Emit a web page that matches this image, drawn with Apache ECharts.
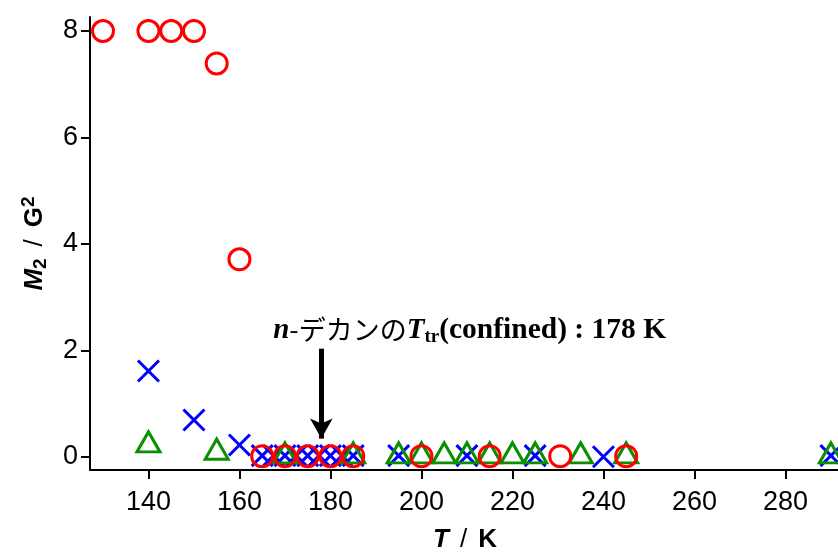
<!DOCTYPE html>
<html>
<head>
<meta charset="utf-8">
<script src="https://cdn.jsdelivr.net/npm/echarts@6/dist/echarts.min.js"></script>
<style>
  html, body { margin: 0; padding: 0; background: #fff; }
  #chart { width: 838px; height: 554px; }
</style>
</head>
<body>
<div id="chart"></div>
<script>
  // red circles
  const circleData = [
    [130, 8.0], [140, 8.0], [145, 8.0], [150, 8.0], [155, 7.39], [160, 3.71],
    [165, 0.01], [170, 0.01], [175, 0.01], [180, 0.01], [185, 0.01],
    [200, 0.01], [215, 0.01], [230.5, 0.01], [245, 0.01]
  ]
  // blue crosses
  const crossData = [
    [140, 1.61], [150, 0.69], [160, 0.22],
    [165, 0.02], [167.5, 0.02], [170, 0.02], [172.5, 0.02], [175, 0.02],
    [177.5, 0.02], [180, 0.02], [182.5, 0.02], [185, 0.02],
    [195, 0.02], [210, 0.02], [225, 0.02], [240, 0.0], [290, 0.02]
  ]
  // green triangles
  const triangleData = [
    [140, 0.28], [155, 0.14], [170, 0.07], [185, 0.07],
    [195, 0.07], [200, 0.07], [205, 0.07], [210, 0.07], [215, 0.07], [220, 0.07],
    [225, 0.07], [235, 0.07], [245, 0.07], [290, 0.07]
  ]
  const xTicks = [140, 160, 180, 200, 220, 240, 260, 280]
  const yTicks = [0, 2, 4, 6, 8]
  const arrowX = 178
  const arrowTop = 2.03
  const arrowBottom = 0.34
  const noteAt = [167.3, 2.38]

  const crossPath = 'path://M0,0L10,10M10,0L0,10'
  const sans = 'Liberation Sans, Arial, sans-serif'
  const serif = 'Liberation Serif, Times New Roman, serif'

  const chart = echarts.init(document.getElementById('chart'))

  const nameFont = { fontWeight: 'bold', fontSize: 26, fontFamily: sans, color: '#000' }

  const option = {
    animation: false,
    backgroundColor: '#fff',
    grid: { left: 90, right: -2, top: 17, bottom: 84, outerBoundsMode: 'none', containLabel: false },
    xAxis: {
      type: 'value',
      min: 127.15,
      max: 292,
      splitLine: { show: false },
      axisLine: { show: true, onZero: false, lineStyle: { color: '#000', width: 2 } },
      axisTick: { show: true, length: 9, customValues: xTicks, lineStyle: { color: '#000', width: 2 } },
      axisLabel: { customValues: xTicks, color: '#000', fontSize: 27, fontFamily: sans, margin: 19 },
      name: '{i|T}{s|/}{n|K}',
      nameLocation: 'middle',
      nameGap: 57,
      nameTextStyle: {
        ...nameFont,
        rich: {
          i: { ...nameFont, fontStyle: 'italic' },
          s: { ...nameFont, fontWeight: 'normal', padding: [0, 11, 0, 11] },
          n: { ...nameFont }
        }
      }
    },
    yAxis: {
      type: 'value',
      min: -0.25,
      max: 8.263,
      splitLine: { show: false },
      axisLine: { show: true, onZero: false, lineStyle: { color: '#000', width: 2 } },
      axisTick: { show: true, length: 9, customValues: yTicks, lineStyle: { color: '#000', width: 2 } },
      axisLabel: { customValues: yTicks, color: '#000', fontSize: 27, fontFamily: sans, margin: 12 },
      name: '{i|M}{sub|2}{s|/}{n|G}{sup|2}',
      nameLocation: 'middle',
      nameRotate: 90,
      nameGap: 40,
      nameTextStyle: {
        ...nameFont,
        rich: {
          i: { ...nameFont, fontStyle: 'italic' },
          n: { ...nameFont },
          s: { ...nameFont, fontWeight: 'normal', padding: [0, 12, 0, 12] },
          sub: { ...nameFont, fontSize: 19, verticalAlign: 'bottom', padding: [12, 0, 0, 0] },
          sup: { ...nameFont, fontSize: 19, verticalAlign: 'top', padding: [0, 0, 12, 0] }
        }
      }
    },
    series: [
      {
        type: 'scatter',
        data: crossData,
        symbol: crossPath,
        symbolSize: 21,
        itemStyle: { color: 'none', borderColor: '#0000ff', borderWidth: 3, opacity: 1 },
        z: 2
      },
      {
        type: 'scatter',
        data: triangleData,
        symbol: 'triangle',
        symbolSize: [23, 20],
        itemStyle: { color: 'none', borderColor: '#0a8f00', borderWidth: 3, opacity: 1 },
        z: 3
      },
      {
        type: 'scatter',
        data: circleData,
        symbol: 'circle',
        symbolSize: 21,
        itemStyle: { color: 'none', borderColor: '#ff0000', borderWidth: 3, opacity: 1 },
        z: 4,
        markLine: {
          silent: true,
          symbol: ['none', 'arrow'],
          symbolSize: [17, 20],
          lineStyle: { color: '#000', width: 5, type: 'solid', opacity: 1 },
          label: { show: false },
          data: [[{ coord: [arrowX, arrowTop] }, { coord: [arrowX, arrowBottom] }]]
        },
        markPoint: {
          silent: true,
          symbol: 'rect',
          symbolSize: 1,
          itemStyle: { color: 'rgba(0,0,0,0)' },
          label: {
            show: true,
            position: 'right',
            distance: 0,
            formatter: '{i|n}{j|-デカンの}{i|T}{sub|tr}{n|(confined) : 178 K}',
            rich: {
              i: { fontFamily: serif, fontStyle: 'italic', fontWeight: 'bold', fontSize: 29, color: '#000' },
              j: { fontFamily: 'Noto Sans CJK JP', fontSize: 27, color: '#000' },
              n: { fontFamily: serif, fontWeight: 'bold', fontSize: 29.5, color: '#000' },
              sub: { fontFamily: serif, fontWeight: 'bold', fontSize: 19, color: '#000', verticalAlign: 'bottom', padding: [14, 0, 0, 0] }
            }
          },
          data: [{ coord: noteAt }]
        }
      }
    ]
  }

  chart.setOption(option)
</script>
</body>
</html>
